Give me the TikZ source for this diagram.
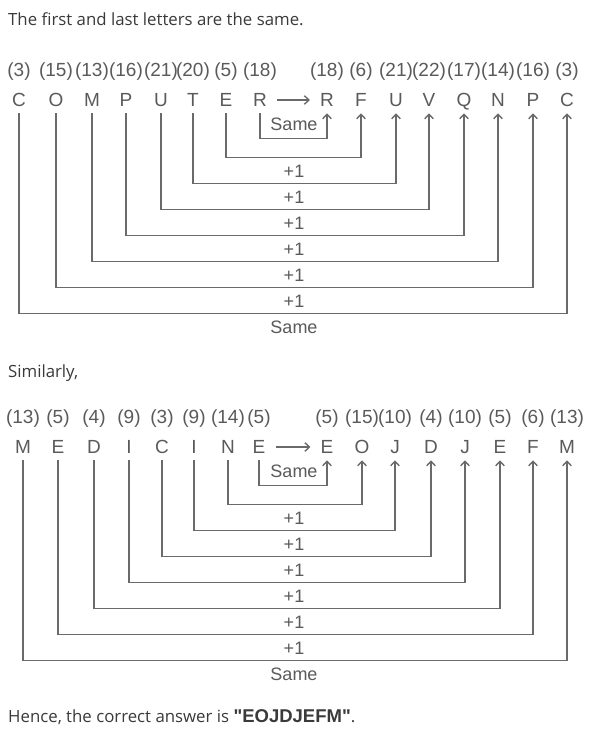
\documentclass[tikz,border=0pt]{standalone}
\usepackage{fontspec}
\setmainfont{Liberation Sans}
\newfontfamily\uifont{Open Sans}
\newfontfamily\ansfont[Ligatures=TeXOff]{Liberation Sans}
\usetikzlibrary{arrows.meta}
\definecolor{ink}{HTML}{5A5A5A}
\definecolor{wire}{HTML}{6A6A6A}
\definecolor{prose}{HTML}{3A3A3A}
\begin{document}
\begin{tikzpicture}[x=1pt,y=-1pt,
  letter/.style={inner sep=0pt, text height=13.5pt, text depth=0pt, outer ysep=6.5pt,
                 font=\fontsize{19}{19}\selectfont, text=ink},
  num/.style={inner sep=0pt, font=\fontsize{19}{19}\selectfont, text=ink},
  lab/.style={inner sep=0pt, font=\fontsize{18}{18}\selectfont, text=ink},
  conn/.style={draw=wire, line width=1.4pt, -{Straight Barb[length=4.5pt,width=8.5pt]}},
  prose/.style={inner sep=0pt, anchor=west, font=\uifont\fontsize{16.8}{18}\selectfont, text=prose}]
\useasboundingbox[fill=white] (0,0) rectangle (603,742);

% ---------- texts ----------
\node[prose] (t1) at (8,19) {The first and last letters are the same.};
\node[prose] (t2) at (8,373) {Similarly,};
\node[prose] (t3) at (8,717) {Hence, the correct answer is {\ansfont\bfseries\fontsize{18.5}{18}\selectfont "EOJDJEFM"}.};

% ---------- first diagram ----------
\foreach \x/\l/\n [count=\i] in {19/C/3,56/O/15,92/M/13,126/P/16,161/U/21,193/T/20,226/E/5,260/R/18}{
  \node[letter] (a\i) at (\x,100) {\l};
  \node[num] (an\i) at (\x,72) {(\n)};
}
\foreach \x/\l/\n [count=\i] in {327/R/18,361/F/6,396/U/21,429/V/22,464/Q/17,498/N/14,533/P/16,567/C/3}{
  \node[letter] (b\i) at (\x,100) {\l};
  \node[num] (bn\i) at (\x,72) {(\n)};
}
\draw[conn, shorten <=10pt, shorten >=10pt] (a8) -- (b1);
\foreach \k/\d in {1/25,2/44,3/70,4/96,5/122,6/148,7/174,8/200}{
  \pgfmathtruncatemacro\j{9-\k}
  \draw[conn] (a\j.south) -- ++(0,\d) -| (b\k.south);
}
\node[lab] (as) at (294,124) {Same};
\foreach \d [count=\i] in {44,70,96,122,148,174}{
  \node[lab] (ap\i) at (294,{113+\d+14}) {+1};
}
\node[lab] (ae) at (294,327) {Same};

% ---------- second diagram ----------
\foreach \x/\l/\n [count=\i] in {23/M/13,58/E/5,94/D/4,129/I/9,162/C/3,194/I/9,228/N/14,259/E/5}{
  \node[letter] (c\i) at (\x,447) {\l};
  \node[num] (cn\i) at (\x,419) {(\n)};
}
\foreach \x/\l/\n [count=\i] in {327/E/5,362/O/15,395/J/10,431/D/4,465/J/10,500/E/5,533/F/6,567/M/13}{
  \node[letter] (d\i) at (\x,447) {\l};
  \node[num] (dn\i) at (\x,419) {(\n)};
}
\draw[conn, shorten <=10pt, shorten >=10pt] (c8) -- (d1);
\foreach \k/\d in {1/25,2/44,3/70,4/96,5/122,6/148,7/174,8/200}{
  \pgfmathtruncatemacro\j{9-\k}
  \draw[conn] (c\j.south) -- ++(0,\d) -| (d\k.south);
}
\node[lab] (cs) at (294,471) {Same};
\foreach \d [count=\i] in {44,70,96,122,148,174}{
  \node[lab] (cp\i) at (294,{460+\d+14}) {+1};
}
\node[lab] (ce) at (294,674) {Same};
\end{tikzpicture}
\end{document}
